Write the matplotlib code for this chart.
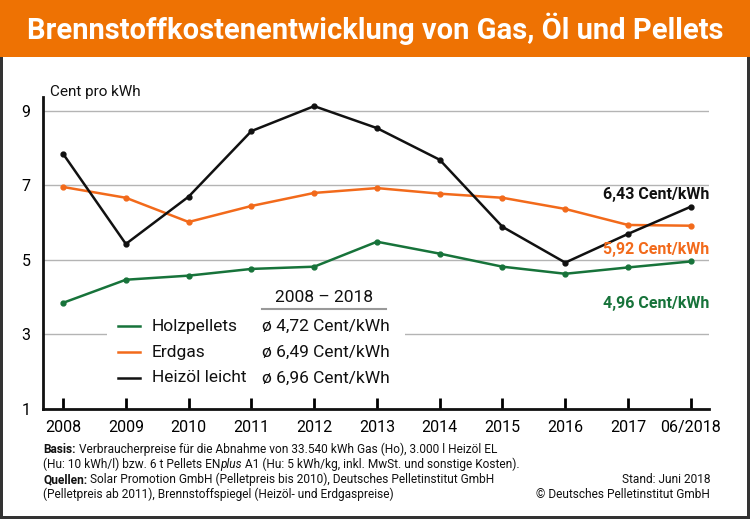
import matplotlib
matplotlib.use('Agg')
import matplotlib.pyplot as plt
from matplotlib import font_manager
from matplotlib.patches import Rectangle

# data (Cent pro kWh)
years = [2008, 2009, 2010, 2011, 2012, 2013, 2014, 2015, 2016, 2017, 2018]
year_labels = ['2008', '2009', '2010', '2011', '2012', '2013', '2014', '2015', '2016', '2017', '06/2018']
heizoel = [7.85, 5.43, 6.70, 8.46, 9.13, 8.54, 7.69, 5.89, 4.93, 5.70, 6.43]
erdgas = [6.96, 6.67, 6.02, 6.45, 6.80, 6.93, 6.78, 6.67, 6.37, 5.94, 5.92]
pellets = [3.85, 4.47, 4.58, 4.76, 4.82, 5.49, 5.17, 4.82, 4.63, 4.80, 4.96]
y_ticks = [1, 3, 5, 7, 9]

series_names = ['Holzpellets', 'Erdgas', 'Heizöl leicht']
averages = ['ø 4,72 Cent/kWh', 'ø 6,49 Cent/kWh', 'ø 6,96 Cent/kWh']
end_labels = ['4,96 Cent/kWh', '5,92 Cent/kWh', '6,43 Cent/kWh']

GREEN = '#17733a'
ORANGE = '#f26a1b'
BLACK = '#111111'
HEADER = '#ee7203'

names = {f.name for f in font_manager.fontManager.ttflist}
cond = 'Liberation Sans Narrow' if 'Liberation Sans Narrow' in names else 'Roboto'
plt.rcParams['font.family'] = [cond, 'DejaVu Sans']

W, H = 750, 519
fig = plt.figure(figsize=(7.5, 5.19), dpi=100)
fig.patch.set_facecolor('white')
fig.patch.set_edgecolor('#333333')
fig.patch.set_linewidth(3)


def fx(px):
    return px / W


def fy(py):
    return 1 - py / H


# header band
fig.patches.append(Rectangle((0, fy(57)), 1, 57 / H, transform=fig.transFigure,
                             facecolor=HEADER, edgecolor='none', zorder=1))
fig.text(0.5, fy(29), 'Brennstoffkostenentwicklung von Gas, Öl und Pellets',
         ha='center', va='center', color='white', fontsize=21, fontweight='bold')

ax = fig.add_axes([fx(43), fy(409), fx(709) - fx(43), fy(97) - fy(409)])
ax.plot(years, pellets, color=GREEN, lw=1.8, marker='o', ms=3.5, zorder=3)
ax.plot(years, erdgas, color=ORANGE, lw=1.8, marker='o', ms=3.5, zorder=3)
ax.plot(years, heizoel, color=BLACK, lw=1.8, marker='o', ms=3.5, zorder=3)

ax.set_xlim(2007.68, 2018.29)
ax.set_ylim(1, 9.375)
ax.set_yticks(y_ticks)
ax.set_xticks(years)
ax.set_xticklabels(year_labels)
ax.grid(axis='y', color='#b4b4b4', lw=1)
ax.set_axisbelow(True)
for s in ['top', 'right']:
    ax.spines[s].set_visible(False)
for s in ['left', 'bottom']:
    ax.spines[s].set_linewidth(2)
    ax.spines[s].set_color(BLACK)
ax.tick_params(axis='x', direction='in', length=8, width=2, pad=8, labelsize=11.5)
ax.tick_params(axis='y', length=0, pad=9, labelsize=11.5)
ax.set_facecolor('none')

fig.text(fx(50), fy(92), 'Cent pro kWh', fontsize=11, va='center', ha='left', color=BLACK)

# end-value labels
ends = [(pellets, GREEN, -1.13), (erdgas, ORANGE, -0.65), (heizoel, BLACK, 0.34)]
for (vals, col, dy), lab in zip(ends, end_labels):
    ax.text(2018.3, vals[-1] + dy, lab, ha='right', va='center', color=col,
            fontsize=11.5, fontweight='bold')

# legend block (white box breaks the gridline at 3)
fig.patches.append(Rectangle((fx(107), fy(392)), fx(405) - fx(107), (392 - 318) / H,
                             transform=fig.transFigure, facecolor='white', edgecolor='none', zorder=1))
fig.text(fx(324), fy(297), '2008 – 2018', ha='center', va='center', fontsize=12.5, color=BLACK)
fig.lines.append(plt.Line2D([fx(262), fx(386)], [fy(309), fy(309)], transform=fig.transFigure,
                            color='#999999', lw=1.5))
rows_y = [326, 352, 378]
for name, avg, col, ry in zip(series_names, averages, [GREEN, ORANGE, BLACK], rows_y):
    fig.lines.append(plt.Line2D([fx(118), fx(140)], [fy(ry), fy(ry)], transform=fig.transFigure,
                                color=col, lw=1.8))
    fig.text(fx(152), fy(ry), name, ha='left', va='center', fontsize=12.5, color=BLACK)
    fig.text(fx(262), fy(ry), avg, ha='left', va='center', fontsize=12.5, color=BLACK)

# footer
renderer = fig.canvas.get_renderer()


def run_text(x_px, y_px, parts, size=8.6):
    x = fx(x_px)
    for txt, kw in parts:
        t = fig.text(x, fy(y_px), txt, ha='left', va='baseline', fontsize=size, color=BLACK, **kw)
        bb = t.get_window_extent(renderer)
        x += bb.width / W


run_text(43, 453, [('Basis:', {'fontweight': 'bold'}),
                   (' Verbraucherpreise für die Abnahme von 33.540 kWh Gas (Ho), 3.000 l Heizöl EL', {})])
run_text(43, 468, [('(Hu: 10 kWh/l) bzw. 6 t Pellets EN', {}), ('plus', {'style': 'italic'}),
                   (' A1 (Hu: 5 kWh/kg, inkl. MwSt. und sonstige Kosten).', {})])
run_text(43, 483, [('Quellen:', {'fontweight': 'bold'}),
                   (' Solar Promotion GmbH (Pelletpreis bis 2010), Deutsches Pelletinstitut GmbH', {})])
run_text(43, 498, [('(Pelletpreis ab 2011), Brennstoffspiegel (Heizöl- und Erdgaspreise)', {})])
fig.text(fx(710), fy(483), 'Stand: Juni 2018', ha='right', va='baseline', fontsize=8.6, color=BLACK)
fig.text(fx(710), fy(498), '© Deutsches Pelletinstitut GmbH', ha='right', va='baseline', fontsize=8.6, color=BLACK)

fig.savefig('out.png', dpi=100, facecolor=fig.get_facecolor(), edgecolor=fig.get_edgecolor())
